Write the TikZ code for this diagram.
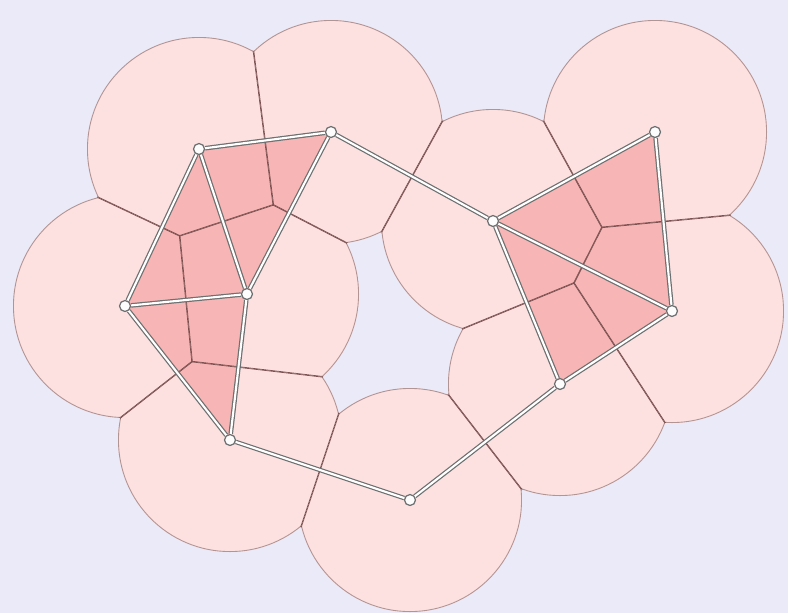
\documentclass[tikz,border=0pt]{standalone}
\usetikzlibrary{calc}
\definecolor{paper}{HTML}{EAEAF8}
\definecolor{cellpink}{HTML}{FDE1E1}
\definecolor{trifill}{HTML}{F8B5B5}
\definecolor{ridge}{HTML}{7A5050}
\definecolor{rimline}{HTML}{B39494}
\definecolor{edgegray}{HTML}{6C7070}

\begin{document}
\begin{tikzpicture}[x=0.02cm, y=-0.02cm,
  cell/.style={fill=cellpink},
  tri/.style={fill=trifill},
  rim/.style={draw=rimline, line width=1pt},
  ridgeline/.style={draw=ridge, line width=0.8pt},
  link/.style={draw=edgegray, line width=0.7pt, double=white, double distance=1.2pt},
  site/.style={circle, draw=edgegray, fill=white!90!paper, line width=0.7pt, inner sep=0pt, minimum size=0.22cm}]
  \fill[paper] (0,0) rectangle (788,613);
  \useasboundingbox (0,0) rectangle (788,613);
  % sites
  \coordinate (p1) at (199,149);
  \coordinate (p2) at (331,132);
  \coordinate (p3) at (125,306);
  \coordinate (p4) at (247,294);
  \coordinate (p5) at (230,440);
  \coordinate (p6) at (410,500);
  \coordinate (p7) at (560,384);
  \coordinate (p8) at (672,311);
  \coordinate (p9) at (493,221);
  \coordinate (p10) at (655,132);
  % union of the balls
  \foreach \i in {1,...,10} \fill[cell] (p\i) circle [radius=112];
  % triangles of the complex
  \fill[tri] (p1) -- (p2) -- (p4) -- cycle;
  \fill[tri] (p1) -- (p3) -- (p4) -- cycle;
  \fill[tri] (p3) -- (p4) -- (p5) -- cycle;
  \fill[tri] (p9) -- (p10) -- (p8) -- cycle;
  \fill[tri] (p9) -- (p8) -- (p7) -- cycle;
  % voronoi ridges and outer rim, cell by cell
  \foreach \i in {1,...,10} {
    \begin{scope}
      \clip (p\i) circle [radius=112];
      \foreach \j in {1,...,10} {
        \ifnum\i=\j\else
          \clip ($(p\i)!0.5!(p\j)!30cm!90:(p\j)$) -- ($(p\i)!0.5!(p\j)!30cm!-90:(p\j)$)
            -- ($(p\i)!0.5!(p\j)!30cm!(p\i)$) -- cycle;
        \fi
      }
      \draw[rim] (p\i) circle [radius=112];
      \foreach \j in {1,...,10} {
        \ifnum\i=\j\else
          \draw[ridgeline] ($(p\i)!0.5!(p\j)!30cm!90:(p\j)$) -- ($(p\i)!0.5!(p\j)!30cm!-90:(p\j)$);
        \fi
      }
    \end{scope}
  }
  % vertices
  \foreach \i in {1,...,10} \node[site] (v\i) at (p\i) {};
  % edges
  \draw[link] (v1) -- (v2);
  \draw[link] (v1) -- (v3);
  \draw[link] (v1) -- (v4);
  \draw[link] (v2) -- (v4);
  \draw[link] (v3) -- (v4);
  \draw[link] (v3) -- (v5);
  \draw[link] (v4) -- (v5);
  \draw[link] (v5) -- (v6);
  \draw[link] (v6) -- (v7);
  \draw[link] (v7) -- (v9);
  \draw[link] (v7) -- (v8);
  \draw[link] (v8) -- (v9);
  \draw[link] (v8) -- (v10);
  \draw[link] (v9) -- (v10);
  \draw[link] (v2) -- (v9);
\end{tikzpicture}
\end{document}
